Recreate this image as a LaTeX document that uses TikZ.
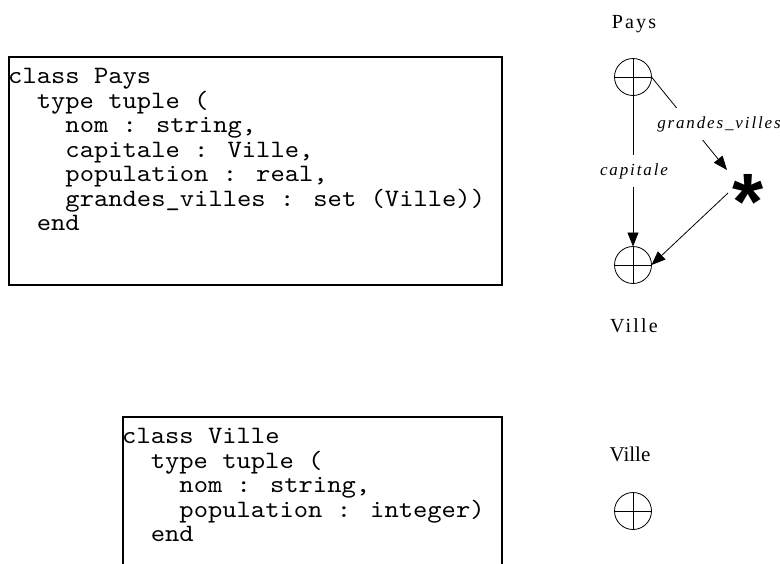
\documentclass[tikz,border=0pt]{standalone}
\usepackage{fontspec}
\setmainfont{Liberation Serif}
\newfontfamily\spacedserif[LetterSpace=11]{Liberation Serif}
\newfontfamily\starfont{Liberation Sans}
\newfontfamily\codefont[FakeStretch=1.09]{lmmono10-regular.otf}
\usetikzlibrary{arrows.meta}

\tikzset{
  classbox/.style={draw, line width=1.6pt, inner sep=0pt, outer sep=0pt, anchor=north west},
  code/.style={anchor=base west, align=left, inner sep=0pt,
    font=\codefont\fontsize{25}{24.5}\selectfont},
  objcircle/.style={draw, circle, minimum size=37pt, inner sep=0pt, outer sep=0pt, line width=0.8pt},
  typename/.style={anchor=base, inner sep=0pt, font=\spacedserif\fontsize{20}{22}\selectfont},
  edgelabel/.style={fill=white, anchor=base, inner xsep=1pt, inner ysep=8pt,
    font=\spacedserif\itshape\fontsize{17}{18}\selectfont},
  link/.style={line width=0.8pt, -{Triangle[length=14pt,width=11pt]}},
  thin line/.style={line width=0.8pt},
}

\begin{document}
\begin{tikzpicture}[x=1pt, y=-1pt]
  \useasboundingbox (0,0) rectangle (780,563);
  \clip (0,0) rectangle (780,563);

  % class Pays definition (node anchored on the baseline of its last line)
  \node[classbox, minimum width=493pt, minimum height=228pt] (box1) at (9,57) {};
  \draw[line width=2.4pt] (box1.north east) -- (box1.south east) -- (box1.south west);
  \node[code] (code1) at (8,230.5) {class Pays\\
    \hspace*{1.145em}type tuple (\\
    \hspace*{2.29em}nom : string,\\
    \hspace*{2.29em}capitale : Ville,\\
    \hspace*{2.29em}population : real,\\
    \hspace*{2.29em}grandes\_villes : set (Ville))\\
    \hspace*{1.145em}end};

  % class Ville definition
  \node[classbox, minimum width=379pt, minimum height=220pt] (box2) at (123,417) {};
  \draw[line width=2.4pt] (box2.north east) -- (box2.south east);
  \node[code] (code2) at (122,541.5) {class Ville\\
    \hspace*{1.145em}type tuple (\\
    \hspace*{2.29em}nom : string,\\
    \hspace*{2.29em}population : integer)\\
    \hspace*{1.145em}end};

  % type graph of Pays
  \node[objcircle] (pays) at (633,77) {};
  \node[objcircle] (ville) at (633,265) {};
  \node[inner sep=0pt, anchor=base, font=\starfont\bfseries\fontsize{80}{80}\selectfont] (star) at (748,229) {*};
  \coordinate (gvend) at (727,170);
  \coordinate (gvstart) at (728,193);

  \draw[thin line] (pays.west) -- (pays.east);
  \draw[thin line] (ville.west) -- (ville.east) (ville.north) -- (ville.south);
  \draw[link] (pays.north) -- (ville.north);
  \draw[link] (pays.east) -- (gvend);
  \draw[link] (gvstart) -- (ville.east);

  \node[typename] (lpays) at (634,28) {Pays};
  \node[typename] (lville) at (634,332) {Ville};
  \node[edgelabel] (lcap) at (634,175) {capitale};
  \node[edgelabel] (lgv) at (719,128) {grandes\_villes};

  % type graph of Ville
  \node[inner sep=0pt, anchor=base, font=\fontsize{21}{24}\selectfont] (lville2) at (630,461) {Ville};
  \node[objcircle] (ville2) at (633,511) {};
  \draw[thin line] (ville2.west) -- (ville2.east) (ville2.north) -- (ville2.south);
\end{tikzpicture}
\end{document}
